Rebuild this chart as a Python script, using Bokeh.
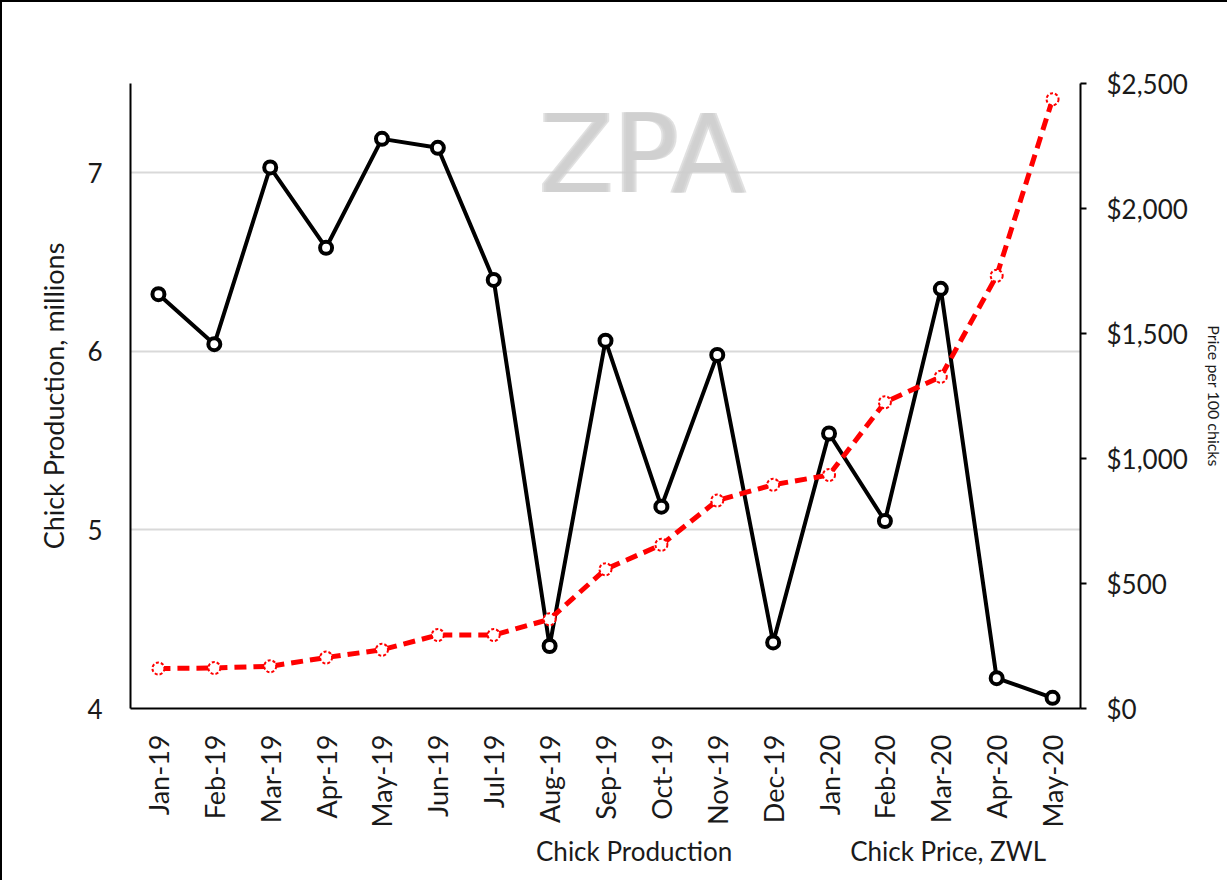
from bokeh.plotting import figure
from bokeh.layouts import column
from bokeh.models import (FactorRange, Range1d, LinearAxis, FixedTicker,
                          Legend, LegendItem, ColumnDataSource)
from bokeh.core.properties import value
from bokeh.embed import file_html
from bokeh.resources import INLINE
from math import pi

months = ["Jan-19", "Feb-19", "Mar-19", "Apr-19", "May-19", "Jun-19", "Jul-19", "Aug-19",
          "Sep-19", "Oct-19", "Nov-19", "Dec-19", "Jan-20", "Feb-20", "Mar-20", "Apr-20", "May-20"]
chick_production = [6.32, 6.04, 7.03, 6.58, 7.19, 7.14, 6.40, 4.35, 6.06, 5.13, 5.98, 4.37,
                    5.54, 5.05, 6.35, 4.17, 4.06]
chick_price = [160, 162, 169, 204, 235, 294, 294, 357, 557, 655, 832, 895, 934, 1225, 1327,
               1731, 2437]
left_ticks = [4, 5, 6, 7]
right_ticks = [0, 500, 1000, 1500, 2000, 2500]
right_tick_labels = ["$0", "$500", "$1,000", "$1,500", "$2,000", "$2,500"]

FONT = "Lato"
TXT = "#1a1a1a"

src = ColumnDataSource(dict(m=months, prod=chick_production, price=chick_price))

p = figure(width=1225, height=828, x_range=FactorRange(factors=months),
           y_range=Range1d(4, 7.5), output_backend="svg", toolbar_location=None,
           min_border_left=128, min_border_top=81, min_border_right=147, min_border_bottom=110)
p.outline_line_color = None
p.extra_y_ranges = {"price": Range1d(0, 2500)}

# grid
p.xgrid.grid_line_color = None
p.ygrid.grid_line_color = "#d9d9d9"
p.ygrid.grid_line_width = 2

# left axis
ya = p.yaxis[0]
ya.ticker = FixedTicker(ticks=left_ticks)
ya.axis_label = "Chick Production, millions"
ya.axis_line_color = "black"
ya.axis_line_width = 2
ya.major_tick_line_color = None
ya.minor_tick_line_color = None
ya.major_label_text_font = FONT
ya.major_label_text_font_size = "26px"
ya.major_label_text_color = TXT
ya.major_label_standoff = 22
ya.axis_label_text_font = FONT
ya.axis_label_text_font_size = "27px"
ya.axis_label_text_font_style = "normal"
ya.axis_label_text_color = TXT
ya.axis_label_standoff = 14

# bottom axis
xa = p.xaxis[0]
xa.major_label_orientation = pi / 2
xa.axis_line_color = "black"
xa.axis_line_width = 2
xa.major_tick_line_color = None
xa.minor_tick_line_color = None
xa.major_label_text_font = FONT
xa.major_label_text_font_size = "27px"
xa.major_label_text_color = TXT
xa.major_label_standoff = 20

# right axis
ra = LinearAxis(y_range_name="price", ticker=FixedTicker(ticks=right_ticks))
ra.major_label_overrides = dict(zip(right_ticks, right_tick_labels))
ra.axis_label = "Price per 100 chicks"
ra.axis_line_color = "black"
ra.axis_line_width = 2
ra.major_tick_line_color = "black"
ra.major_tick_line_width = 2
ra.major_tick_in = 0
ra.major_tick_out = 6
ra.minor_tick_line_color = None
ra.major_label_text_font = FONT
ra.major_label_text_font_size = "26px"
ra.major_label_text_color = TXT
ra.major_label_standoff = 20
ra.axis_label_text_font = FONT
ra.axis_label_text_font_size = "16px"
ra.axis_label_text_font_style = "normal"
ra.axis_label_text_color = TXT
ra.axis_label_standoff = 14
p.add_layout(ra, "right")

# watermark (normal weight, thickened by small offsets)
for dx in (-21, -19, -17):
    p.text(x=["Oct-19"], y=[7.1], text=["ZPA"], x_offset=dx, text_font=value("DejaVu Sans"),
           text_font_size="108px", text_color="#cdcdcd", text_alpha=0.6,
           text_align="center", text_baseline="middle")

# series
p.line("m", "prod", source=src, line_color="black", line_width=4)
p.scatter("m", "prod", source=src, size=12, marker="circle", fill_color="white",
          line_color="black", line_width=4)
p.line("m", "price", source=src, y_range_name="price", line_color="#ff0000",
       line_width=5, line_dash="12 7")
p.scatter("m", "price", source=src, y_range_name="price", size=12, marker="circle",
          fill_color="white", line_color="#ff0000", line_width=2, line_dash="3 2")

# legend strip below the chart
leg_fig = figure(width=1225, height=50, x_range=Range1d(0, 1), y_range=Range1d(0, 1),
                 x_axis_type=None, y_axis_type=None, output_backend="svg",
                 toolbar_location=None, min_border=0)
leg_fig.outline_line_color = None
empty = ColumnDataSource(dict(x=[], y=[]))
k1 = leg_fig.line("x", "y", source=empty, line_color="black", line_width=4)
k2 = leg_fig.scatter("x", "y", source=empty, size=12, marker="circle", fill_color="white",
                     line_color="black", line_width=4)
k3 = leg_fig.line("x", "y", source=empty, line_color="#ff0000", line_width=5, line_dash="12 7")
k4 = leg_fig.scatter("x", "y", source=empty, size=12, marker="circle", fill_color="white",
                     line_color="#ff0000", line_width=2, line_dash="3 2")

legend = Legend(items=[LegendItem(label="Chick Production", renderers=[k1, k2]),
                       LegendItem(label="Chick Price, ZWL", renderers=[k3, k4])],
                location=(330, 13), orientation="horizontal",
                glyph_width=70, glyph_height=20, label_standoff=6, spacing=42,
                padding=0, margin=0, border_line_color=None, background_fill_alpha=0,
                label_text_font=FONT, label_text_font_size="26px", label_text_color=TXT)
leg_fig.add_layout(legend, "center")

layout = column(p, leg_fig, spacing=0)
layout.styles = {"border-top": "2px solid black", "border-left": "2px solid black"}

open("out.html", "w").write(file_html(layout, INLINE))
